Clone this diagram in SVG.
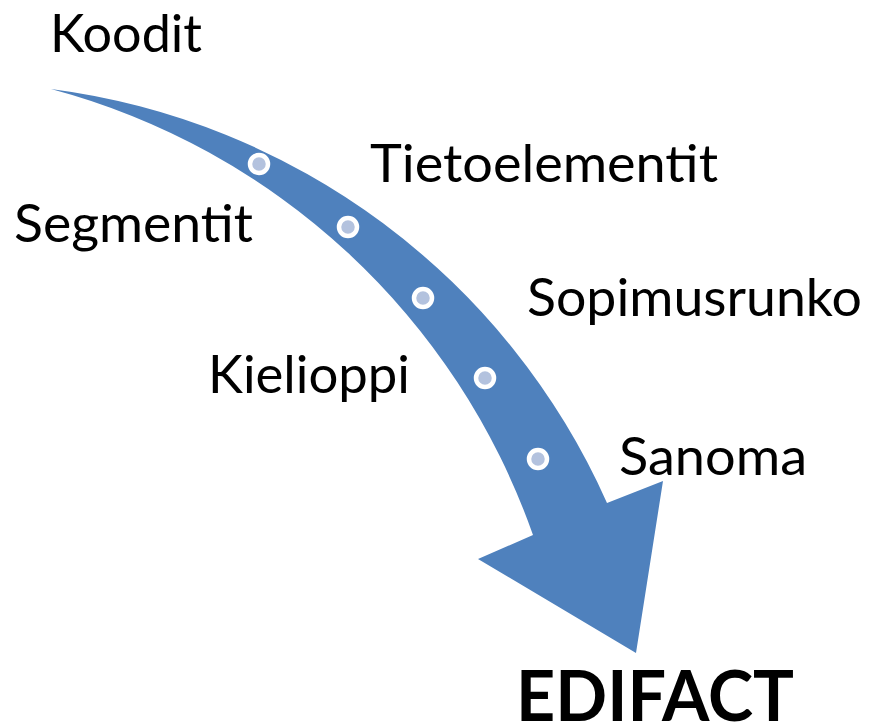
<svg xmlns="http://www.w3.org/2000/svg" width="870" height="728" viewBox="0 0 870 728">
  <style>
    .lbl { font-family: Lato, "Open Sans", "Liberation Sans", sans-serif; font-size: 53px; fill: #000000; }
    .title { font-family: Lato, "Open Sans", "Liberation Sans", sans-serif; font-size: 71px; font-weight: bold; fill: #000000; }
    .arrow { fill: #4F81BD; }
    .dot { fill: #B3C2DE; stroke: #FFFFFF; stroke-width: 4.5; }
  </style>

  <!-- curved arrow: outer and inner edges are circular arcs meeting at the tail -->
  <g id="connectors">
    <path class="arrow" d="M51,89 A708,708 0 0 1 607,503 L663,481 L636,653 L478,559 L533,535 A703,703 0 0 0 51,89 Z"/>
  </g>

  <g id="dots">
    <circle class="dot" cx="259" cy="164" r="9"/>
    <circle class="dot" cx="348" cy="227" r="9"/>
    <circle class="dot" cx="423" cy="298" r="9"/>
    <circle class="dot" cx="485" cy="378" r="9"/>
    <circle class="dot" cx="538" cy="459" r="9"/>
  </g>

  <g id="koodit"><text class="lbl" x="50" y="52" textLength="152" lengthAdjust="spacingAndGlyphs">Koodit</text></g>
  <g id="tietoelementit"><text class="lbl" x="370" y="182" textLength="348" lengthAdjust="spacingAndGlyphs">Tietoelementit</text></g>
  <g id="segmentit"><text class="lbl" x="14" y="242" textLength="239" lengthAdjust="spacingAndGlyphs">Segmentit</text></g>
  <g id="sopimusrunko"><text class="lbl" x="527" y="316" textLength="335" lengthAdjust="spacingAndGlyphs">Sopimusrunko</text></g>
  <g id="kielioppi"><text class="lbl" x="208" y="393" textLength="202" lengthAdjust="spacingAndGlyphs">Kielioppi</text></g>
  <g id="sanoma"><text class="lbl" x="619" y="475" textLength="188" lengthAdjust="spacingAndGlyphs">Sanoma</text></g>
  <g id="edifact"><text class="title" x="516" y="721" textLength="278" lengthAdjust="spacingAndGlyphs">EDIFACT</text></g>
</svg>
